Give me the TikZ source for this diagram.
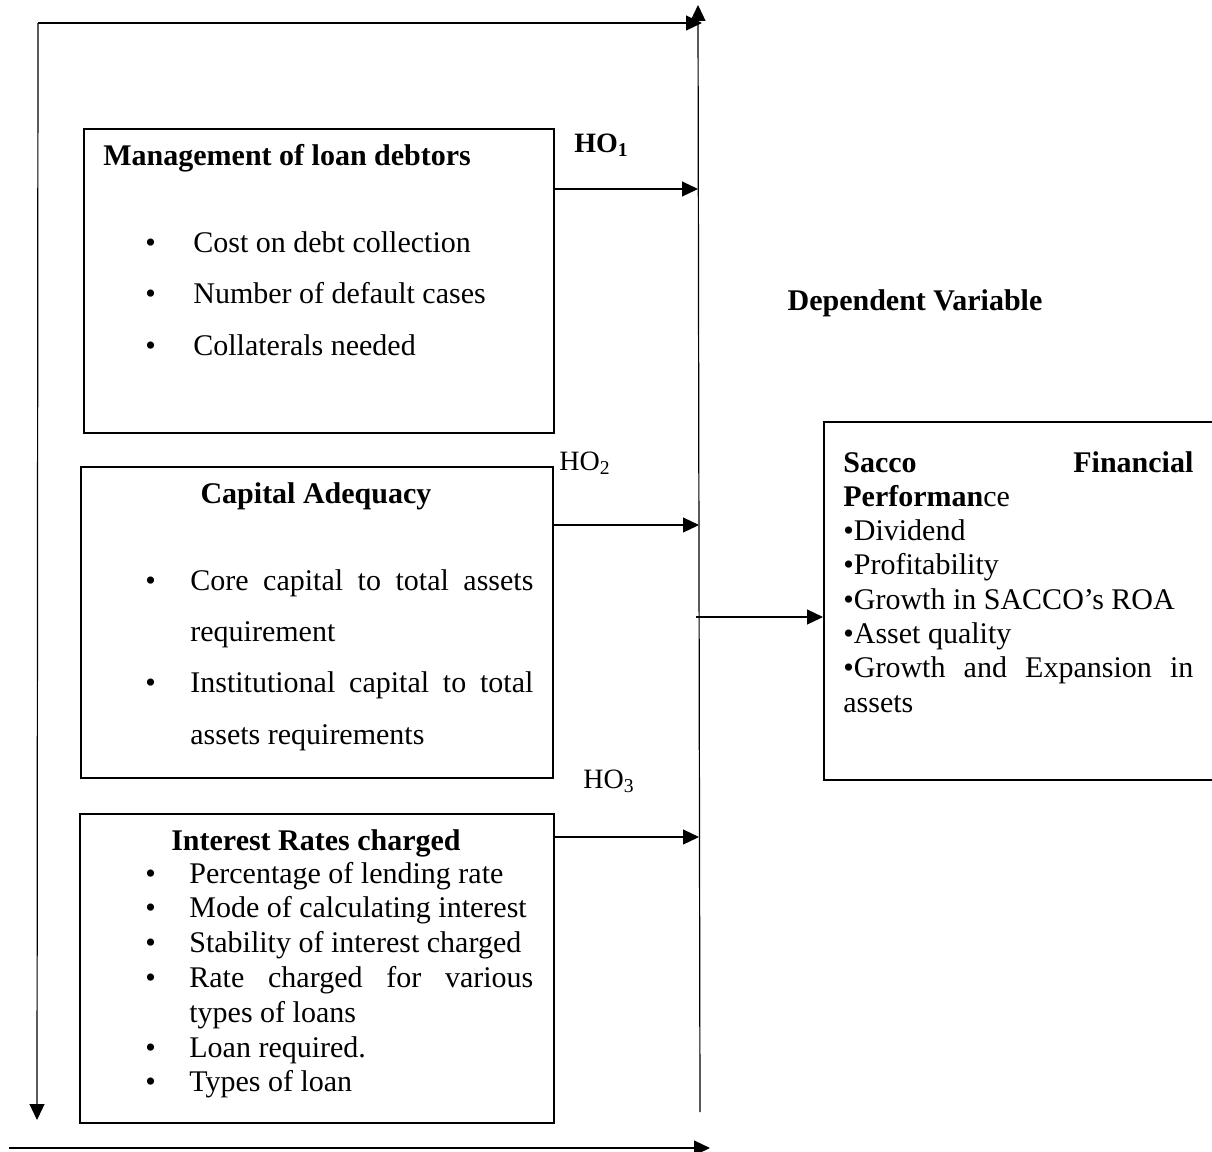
\documentclass[tikz,border=0pt]{standalone}
\usepackage{fontspec}
\setmainfont{Liberation Serif}
\usetikzlibrary{positioning,arrows.meta}

\newlength{\bulind}
\newcommand{\bitem}[1]{\hangindent=\bulind\hangafter=1\noindent\makebox[\bulind][l]{\textbullet}#1\par}
\tolerance=9999
\hyphenpenalty=10000
\hbadness=10000

\begin{document}
\begin{tikzpicture}[x=0.5pt,y=-0.5pt,
                    box/.style={draw,line width=1.1pt,inner sep=0pt,anchor=north west},
                    head/.style={font=\fontsize{15}{17}\selectfont\bfseries,inner sep=0pt,anchor=base},
                    hyp/.style={font=\fontsize{14}{16}\selectfont,inner sep=0pt,anchor=base west},
                    items/.style={inner sep=0pt,anchor=base west,text width=194pt,align=justify},
                    link/.style={-{Triangle[length=8pt,width=7.5pt]},line width=0.6pt}]

  \useasboundingbox (0,0) rectangle (1212,1152);

  % boxes
  \node[box,minimum width=235pt,minimum height=152pt] (mgmt) at (83,128) {};
  \node[box,minimum width=236pt,minimum height=155.5pt] (capital) at (80,466) {};
  \node[box,minimum width=237pt,minimum height=154.5pt] (interest) at (79,813) {};
  \node[box,minimum width=197pt,minimum height=179pt] (perf) at (823,421) {};

  % titles
  \node[head,anchor=base west] (mgmt title) at (103,165) {Management of loan debtors};
  \node[head] (capital title) at (316,503) {Capital Adequacy};
  \node[head] (interest title) at (316,850) {Interest Rates charged};
  \node[head] (depvar) at (915,310) {Dependent Variable};

  % lists
  \node[items,font=\fontsize{15}{25.75}\selectfont\setlength{\bulind}{24pt}] (mgmt list) at (145,252) {%
    \bitem{Cost on debt collection}
    \bitem{Number of default cases}
    \bitem{Collaterals needed}};
  \node[items,font=\fontsize{15}{25.7}\selectfont\setlength{\bulind}{22.5pt}] (capital list) at (145,590) {%
    \bitem{Core capital to total assets requirement}
    \bitem{Institutional capital to total assets requirements}};
  \node[items,font=\fontsize{15}{17.4}\selectfont\setlength{\bulind}{22pt}] (interest list) at (145,883) {%
    \bitem{Percentage of lending rate}
    \bitem{Mode of calculating interest}
    \bitem{Stability of interest charged}
    \bitem{Rate charged for various types of loans}
    \bitem{Loan required.}
    \bitem{Types of loan}};
  \node[items,text width=175pt,font=\fontsize{15}{17.15}\selectfont] (perf list) at (843,472) {%
    \textbf{Sacco Financial Performan}ce\par
    \textbullet Dividend\par
    \textbullet Profitability\par
    \textbullet Growth in SACCO’s ROA\par
    \textbullet Asset quality\par
    \textbullet Growth and Expansion in assets};

  % hypotheses
  \node[hyp,font=\fontsize{14}{16}\selectfont\bfseries] (ho1) at (574,152) {HO\textsubscript{1}};
  \node[hyp] (ho2) at (559,470) {HO\textsubscript{2}};
  \node[hyp] (ho3) at (583,788) {HO\textsubscript{3}};

  % frame lines
  \coordinate (tl) at (38,23);
  \coordinate (tr) at (702,23);
  \coordinate (lb) at (37,1120);
  \coordinate (bustop) at (698,5);
  \coordinate (busbot) at (700,1112);
  \coordinate (bl) at (9,1148);
  \coordinate (br) at (710,1148);
  \draw[link] (tl) -- (tr);
  \draw[link] (tl) -- (lb);
  \draw[link] (busbot) -- (bustop);
  \draw[link] (bl) -- (br);

  % arrows into the line
  \coordinate (in1) at (698,189);
  \coordinate (in2) at (699,525);
  \coordinate (in3) at (699,837);
  \coordinate (out) at (696,617);
  \draw[link] (mgmt.east |- in1) -- (in1);
  \draw[link] (capital.east |- in2) -- (in2);
  \draw[link] (interest.east |- in3) -- (in3);
  \draw[link] (out) -- (out -| perf.west);
\end{tikzpicture}
\end{document}
